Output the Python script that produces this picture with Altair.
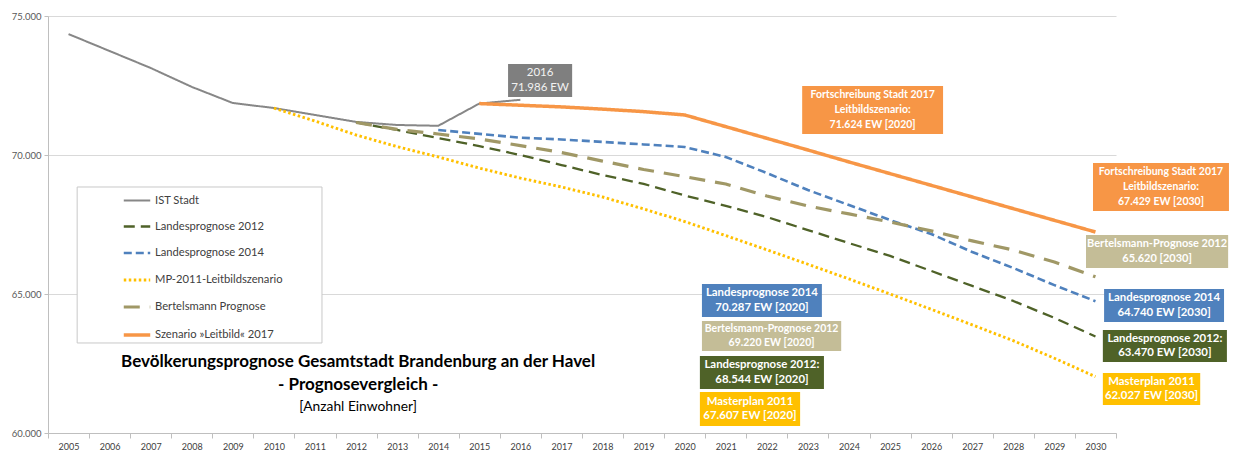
import altair as alt
import pandas as pd

# ---------------- data ----------------
years = list(range(2005, 2031))

series_names = ["IST Stadt", "Landesprognose 2012", "Landesprognose 2014",
                "MP-2011-Leitbildszenario", "Bertelsmann Prognose",
                "Szenario »Leitbild« 2017"]

ist_years = list(range(2005, 2017))
ist_values = [74350, 73740, 73130, 72450, 71870, 71690, 71440, 71190, 71080, 71050, 71850, 71986]

lp2012_years = list(range(2012, 2031))
lp2012_values = [71170, 70900, 70610, 70320, 70000, 69640, 69280, 68960, 68544,
                 68170, 67770, 67300, 66830, 66370, 65830, 65290, 64750, 64140, 63470]

lp2014_years = list(range(2014, 2031))
lp2014_values = [70900, 70760, 70620, 70560, 70470, 70380, 70287,
                 69930, 69350, 68740, 68200, 67660, 67160, 66510, 65935, 65320, 64740]

mp2011_years = list(range(2010, 2031))
mp2011_values = [71690, 71220, 70720, 70300, 69930, 69530, 69170, 68850, 68490, 68060, 67607,
                 67100, 66590, 66070, 65540, 65000, 64450, 63890, 63320, 62690, 62027]

bert_years = list(range(2012, 2031))
bert_values = [71170, 70920, 70756, 70576, 70340, 70090, 69780, 69480, 69220,
               68957, 68525, 68165, 67880, 67590, 67270, 66910, 66580, 66150, 65620]

leit_years = list(range(2015, 2031))
leit_values = [71850, 71790, 71730, 71650, 71560, 71440,
               71020, 70600, 70180, 69750, 69330, 68910, 68490, 68070, 67650, 67230]

box_texts = [
    ["2016", "71.986 EW"],
    ["Fortschreibung Stadt 2017", "Leitbildszenario:", "71.624  EW [2020]"],
    ["Fortschreibung Stadt 2017", "Leitbildszenario:", "67.429  EW [2030]"],
    ["Bertelsmann-Prognose 2012", "65.620 [2030]"],
    ["Landesprognose 2014", "64.740 EW [2030]"],
    ["Landesprognose 2012:", "63.470  EW [2030]"],
    ["Masterplan 2011", "62.027 EW [2030]"],
    ["Landesprognose 2014", "70.287 EW [2020]"],
    ["Bertelsmann-Prognose 2012", "69.220 EW [2020]"],
    ["Landesprognose 2012:", "68.544  EW [2020]"],
    ["Masterplan 2011", "67.607  EW [2020]"],
]

title_lines = ["Bevölkerungsprognose Gesamtstadt Brandenburg an der Havel",
               "- Prognosevergleich -",
               "[Anzahl Einwohner]"]

# ---------------- styles / positions ----------------
line_colors = ["#878787", "#4f6228", "#4f81bd", "#ffc000", "#a09866", "#f79646"]
line_dashes = [[1, 0], [11, 6], [8, 4], [2.5, 2.5], [16, 10], [1, 0]]
line_widths = [2, 3.5, 3, 2.5, 2.4, 4]

box_x0 = [2015.70, 2022.86, 2029.94, 2029.77, 2030.21, 2030.18, 2030.18, 2020.42, 2020.42, 2020.37, 2020.37]
box_x1 = [2017.26, 2026.29, 2033.25, 2033.23, 2033.13, 2033.20, 2032.55, 2023.34, 2023.81, 2023.39, 2022.81]
box_y0 = [72086, 70755, 67986, 65935, 63993, 62554, 61007, 64173, 62950, 61583, 60252]
box_y1 = [73273, 72482, 69712, 67122, 65180, 63705, 62158, 65360, 64029, 62770, 61475]
box_fill = ["#7f7f7f", "#f79646", "#f79646", "#c4bd97", "#4f81bd", "#4f6228", "#ffc000",
            "#4f81bd", "#c4bd97", "#4f6228", "#ffc000"]
box_font = [11.5, 10.5, 10.5, 11.0, 11.4, 11.4, 11.4, 11.4, 10.5, 11.4, 11.4]
box_bold = [False, True, True, True, True, True, True, True, True, True, True]

title_x = 2012.05
title_y = [62554, 61727, 60936]
title_size = [17, 17, 13.8]
title_bold = [True, True, False]

legend_box = dict(x0=2005.21, x1=2011.17, y0=63238, y1=68849)

FONT = "Lato"
UNITS_PER_PX = 15000 / 417

# ---------------- frames ----------------
rows = []
for name, ys, vs in zip(series_names,
                        [ist_years, lp2012_years, lp2014_years, mp2011_years, bert_years, leit_years],
                        [ist_values, lp2012_values, lp2014_values, mp2011_values, bert_values, leit_values]):
    for y, v in zip(ys, vs):
        rows.append({"Jahr": str(y), "Serie": name, "Wert": v})
lines_df = pd.DataFrame(rows)

boxes_df = pd.DataFrame({"x0": box_x0, "x1": box_x1, "y0": box_y0, "y1": box_y1, "fill": box_fill})

text_rows = []
for i, lines_ in enumerate(box_texts):
    n = len(lines_)
    gap = 15 if n == 3 else 14.5
    xc = (box_x0[i] + box_x1[i]) / 2
    yc = (box_y0[i] + box_y1[i]) / 2
    for k, t in enumerate(lines_):
        text_rows.append({"x": xc, "y": yc + ((n - 1) / 2 - k) * gap * UNITS_PER_PX,
                          "text": t, "size": box_font[i], "bold": box_bold[i]})
btext_df = pd.DataFrame(text_rows)

title_df = pd.DataFrame({"x": [title_x] * 3, "y": title_y, "text": title_lines,
                         "size": title_size, "bold": title_bold})

legend_df = pd.DataFrame([legend_box])

yscale = alt.Scale(domain=[60000, 75000], nice=False, zero=False)
qx = alt.Scale(domain=[2004.5, 2030.5], nice=False, zero=False)

yaxis = alt.Axis(values=[60000, 65000, 70000, 75000],
                 labelExpr="replace(format(datum.value, ','), ',', '.')",
                 grid=True, gridColor="#d9d9d9", domainColor="#bfbfbf",
                 tickColor="#bfbfbf", tickSize=4, labelColor="#595959",
                 labelFont=FONT, labelFontSize=9.5, labelPadding=3, title=None)

lines = alt.Chart(lines_df).mark_line(strokeCap="butt", strokeJoin="round").encode(
    x=alt.X("Jahr:O", sort=[str(y) for y in years],
            scale=alt.Scale(type="band", domain=[str(y) for y in years], paddingInner=0, paddingOuter=0),
            axis=alt.Axis(title=None, labelAngle=0, tickBand="extent", tickSize=5,
                          tickColor="#bfbfbf", domainColor="#bfbfbf", labelColor="#404040",
                          labelFont=FONT, labelFontSize=9, labelPadding=4, grid=False),
            bandPosition=0.5),
    y=alt.Y("Wert:Q", scale=yscale, axis=yaxis),
    color=alt.Color("Serie:N", scale=alt.Scale(domain=series_names, range=line_colors),
                    sort=series_names,
                    legend=alt.Legend(title=None, orient="none", legendX=74, legendY=170,
                                      symbolType="stroke", symbolSize=700, rowPadding=6,
                                      padding=0, labelFont=FONT, labelFontSize=11.2,
                                      labelColor="#404040", labelOffset=3,
                                      symbolStrokeWidth=3)),
    strokeDash=alt.StrokeDash("Serie:N", scale=alt.Scale(domain=series_names, range=line_dashes),
                              sort=series_names, legend=None),
    strokeWidth=alt.StrokeWidth("Serie:N", scale=alt.Scale(domain=series_names, range=line_widths),
                                sort=series_names, legend=None),
    order=alt.Order("Jahr:O"),
)

legend_rect = alt.Chart(legend_df).mark_rect(fill="white", stroke="#c8c8c8", strokeWidth=1).encode(
    x=alt.X("x0:Q", scale=qx, axis=None), x2="x1:Q",
    y=alt.Y("y0:Q", scale=yscale, axis=yaxis), y2="y1:Q",
)

rects = alt.Chart(boxes_df).mark_rect().encode(
    x=alt.X("x0:Q", scale=qx, axis=None), x2="x1:Q",
    y=alt.Y("y0:Q", scale=yscale, axis=yaxis), y2="y1:Q",
    fill=alt.Fill("fill:N", scale=None),
)

def text_layer(df, bold, color):
    return alt.Chart(df).transform_filter(
        alt.datum.bold if bold else ~alt.datum.bold
    ).mark_text(font=FONT, fontWeight="bold" if bold else "normal",
                baseline="middle", align="center", color=color).encode(
        x=alt.X("x:Q", scale=qx, axis=None),
        y=alt.Y("y:Q", scale=yscale, axis=yaxis),
        text="text:N",
        size=alt.Size("size:Q", scale=None),
    )

chart = alt.layer(
    legend_rect, lines, rects,
    text_layer(btext_df, True, "#ffffff"), text_layer(btext_df, False, "#f2f2f2"),
    text_layer(title_df, True, "#000000"), text_layer(title_df, False, "#000000"),
).resolve_scale(x="independent").properties(
    width=1068, height=417,
    autosize=alt.AutoSizeParams(type="none"),
    padding={"left": 40, "top": 8, "right": 113, "bottom": 18},
).configure(background="white", view=alt.ViewConfig(stroke=None))

chart.save("out.html", embed_options={"renderer": "svg", "actions": False})
